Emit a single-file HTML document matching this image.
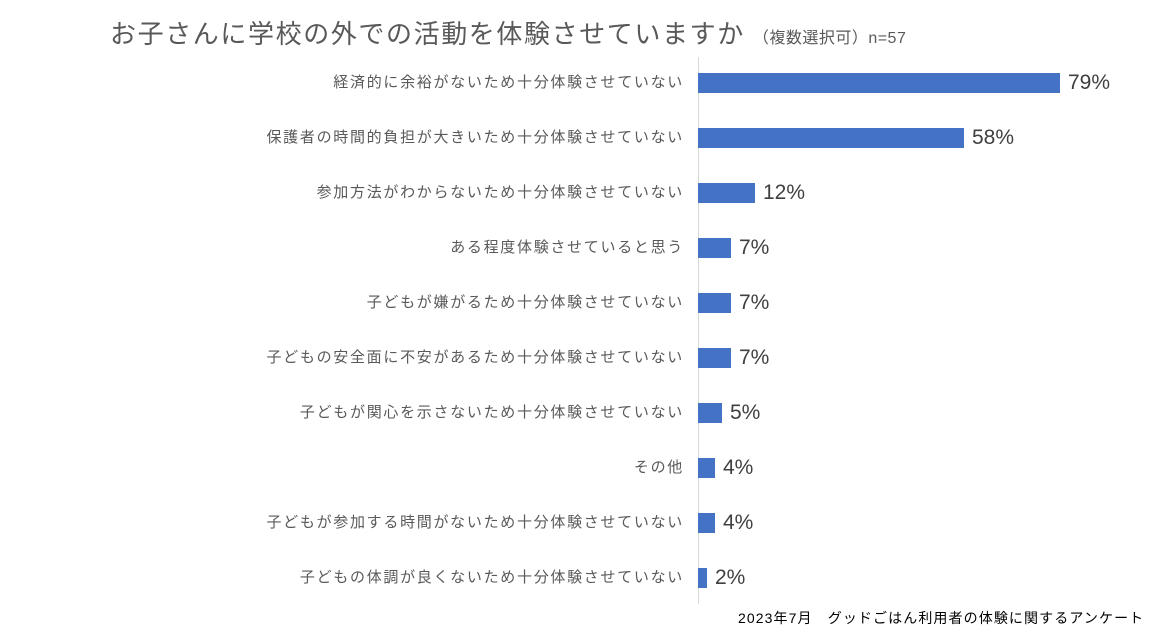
<!DOCTYPE html>
<html><head><meta charset="utf-8"><style>
body{margin:0;width:1170px;height:631px;background:#fff;position:relative;overflow:hidden;font-family:"Liberation Sans","Noto Sans CJK JP",sans-serif}
.t{position:absolute;left:110px;top:14px;font-size:26px;color:#595959;white-space:nowrap;letter-spacing:1.6px}
.t small{font-size:16px;letter-spacing:0.5px;margin-left:8px}
.l{position:absolute;right:486px;font-size:15px;color:#595959;white-space:nowrap;line-height:20px;letter-spacing:1.7px}
.b{position:absolute;left:698px;height:20px;background:#4472C4}
.v{position:absolute;font-size:21px;color:#404040;line-height:24px}
.ax{position:absolute;left:698px;top:57px;width:1px;height:547px;background:#d9d9d9}
.f{position:absolute;left:738px;top:608px;font-size:14px;color:#000;white-space:nowrap;letter-spacing:1.1px}
</style></head><body>
<div class="t">お子さんに学校の外での活動を体験させていますか<small>（複数選択可）n=57</small></div>
<div class="ax"></div>
<div class="l" style="top:73px">経済的に余裕がないため十分体験させていない</div><div class="b" style="top:73px;width:362px"></div><div class="v" style="top:71px;left:1068px">79%</div>
<div class="l" style="top:128px">保護者の時間的負担が大きいため十分体験させていない</div><div class="b" style="top:128px;width:266px"></div><div class="v" style="top:126px;left:972px">58%</div>
<div class="l" style="top:183px">参加方法がわからないため十分体験させていない</div><div class="b" style="top:183px;width:57px"></div><div class="v" style="top:181px;left:763px">12%</div>
<div class="l" style="top:238px">ある程度体験させていると思う</div><div class="b" style="top:238px;width:33px"></div><div class="v" style="top:236px;left:739px">7%</div>
<div class="l" style="top:293px">子どもが嫌がるため十分体験させていない</div><div class="b" style="top:293px;width:33px"></div><div class="v" style="top:291px;left:739px">7%</div>
<div class="l" style="top:348px">子どもの安全面に不安があるため十分体験させていない</div><div class="b" style="top:348px;width:33px"></div><div class="v" style="top:346px;left:739px">7%</div>
<div class="l" style="top:403px">子どもが関心を示さないため十分体験させていない</div><div class="b" style="top:403px;width:24px"></div><div class="v" style="top:401px;left:730px">5%</div>
<div class="l" style="top:458px">その他</div><div class="b" style="top:458px;width:17px"></div><div class="v" style="top:456px;left:723px">4%</div>
<div class="l" style="top:513px">子どもが参加する時間がないため十分体験させていない</div><div class="b" style="top:513px;width:17px"></div><div class="v" style="top:511px;left:723px">4%</div>
<div class="l" style="top:568px">子どもの体調が良くないため十分体験させていない</div><div class="b" style="top:568px;width:9px"></div><div class="v" style="top:566px;left:715px">2%</div>
<div class="f">2023年7月　グッドごはん利用者の体験に関するアンケート</div>
</body></html>
